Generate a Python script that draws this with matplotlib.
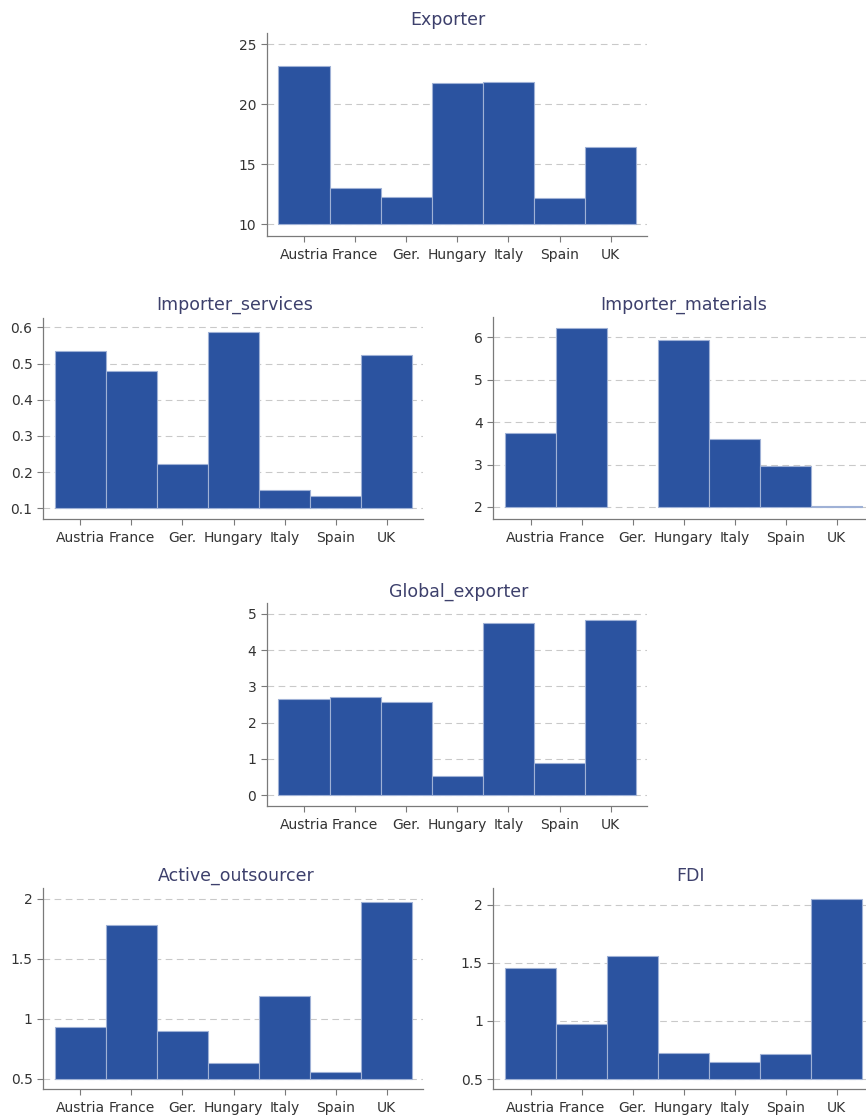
import numpy as np
import matplotlib
matplotlib.use("Agg")
import matplotlib.pyplot as plt

countries = ["Austria", "France", "Ger.", "Hungary", "Italy", "Spain", "UK"]

exporter = [23.14, 12.97, 12.25, 21.72, 21.83, 12.17, 16.44]
importer_services = [0.535, 0.479, 0.222, 0.587, 0.150, 0.133, 0.524]
importer_materials = [3.74, 6.22, np.nan, 5.94, 3.60, 2.96, 2.02]
global_exporter = [2.65, 2.71, 2.57, 0.53, 4.75, 0.90, 4.84]
active_outsourcer = [0.933, 1.781, 0.90, 0.628, 1.19, 0.553, 1.97]
fdi = [1.454, 0.97, 1.558, 0.727, 0.646, 0.716, 2.05]

exporter_ticks = [10, 15, 20, 25]
services_ticks = [0.1, 0.2, 0.3, 0.4, 0.5, 0.6]
materials_ticks = [2, 3, 4, 5, 6]
global_ticks = [0, 1, 2, 3, 4, 5]
outsourcer_ticks = [0.5, 1, 1.5, 2]
fdi_ticks = [0.5, 1, 1.5, 2]

W, H = 866, 1119
BAR = "#2b53a0"
EDGE = "#9fb1d6"
TITLE = "#3d406c"
GRID = "#c9c9c9"
SPINE = "#7a7a7a"

fig = plt.figure(figsize=(W / 100, H / 100), dpi=100)
fig.patch.set_facecolor("white")


def panel(px_left, px_right, px_top, px_bottom, values, ticks, ylim,
          title, title_xy, labels=None):
    ax = fig.add_axes([px_left / W, 1 - px_bottom / H,
                       (px_right - px_left) / W, (px_bottom - px_top) / H])
    base = ticks[0]
    x = np.arange(1, len(countries) + 1)
    vals = np.asarray(values, dtype=float)
    ax.bar(x, vals - base, bottom=base, width=1.0, color=BAR,
           edgecolor=EDGE, linewidth=0.8, zorder=3)
    ax.set_xlim(0.27, 7.71)
    ax.set_ylim(*ylim)
    ax.set_yticks(ticks)
    ax.set_yticklabels(labels if labels else [f"{t:g}" for t in ticks])
    ax.set_xticks(x)
    ax.set_xticklabels(countries)
    ax.yaxis.grid(True, linestyle=(0, (6, 4)), color=GRID, linewidth=0.8)
    ax.set_axisbelow(True)
    for s in ("top", "right"):
        ax.spines[s].set_visible(False)
    for s in ("left", "bottom"):
        ax.spines[s].set_color(SPINE)
        ax.spines[s].set_linewidth(0.9)
    ax.tick_params(axis="both", length=4.5, width=0.8, color=SPINE,
                   labelcolor="#333333", labelsize=10, pad=4)
    ax.tick_params(axis="y", pad=3)
    fig.text(title_xy[0] / W, 1 - title_xy[1] / H, title, ha="center",
             va="center", fontsize=12.5, color=TITLE)
    return ax


panel(266.7, 647, 33, 236, exporter, exporter_ticks, (9.0, 25.92),
      "Exporter", (448, 20))
panel(43, 423, 318, 519, importer_services, services_ticks, (0.0704, 0.626),
      "Importer_services", (235, 305))
panel(493.3, 873, 317, 519, importer_materials, materials_ticks, (1.716, 6.48),
      "Importer_materials", (684, 305))
panel(266.7, 647, 603, 806, global_exporter, global_ticks, (-0.296, 5.30),
      "Global_exporter", (459, 592))
panel(43, 423, 888, 1089, active_outsourcer, outsourcer_ticks, (0.414, 2.088),
      "Active_outsourcer", (236, 876))
panel(493.3, 873, 888, 1089, fdi, fdi_ticks, (0.414, 2.144),
      "FDI", (691, 876))

fig.savefig("out.png", dpi=100)
